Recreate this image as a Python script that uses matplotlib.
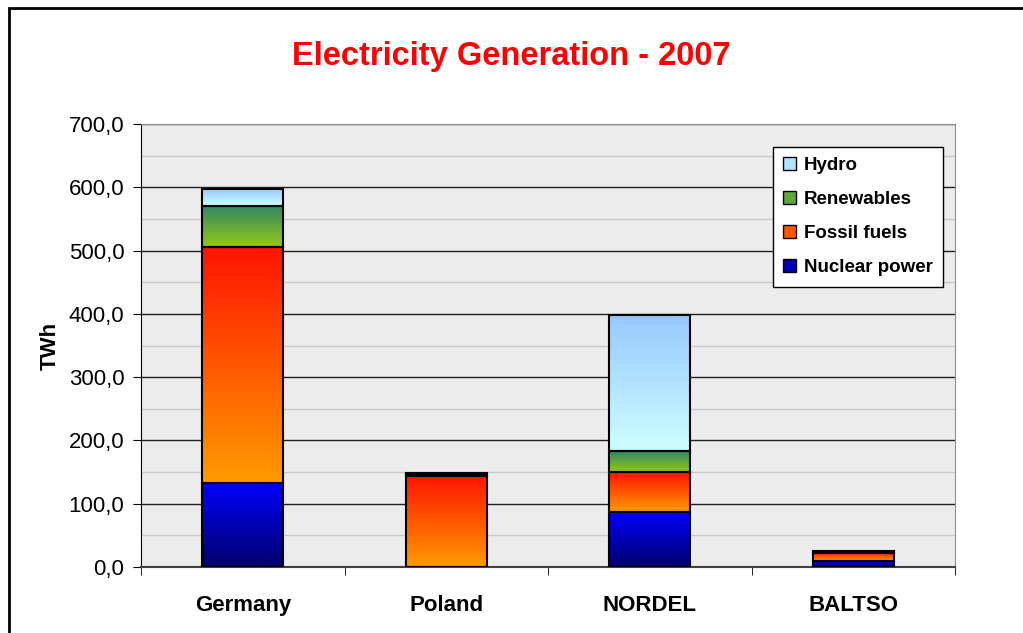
import matplotlib
matplotlib.use("Agg")
import matplotlib.pyplot as plt
import matplotlib.patches as mpatches
from matplotlib.colors import LinearSegmentedColormap
import numpy as np

plt.rcParams['font.family'] = ['Liberation Sans', 'DejaVu Sans']
plt.rcParams['font.size'] = 16

# data (TWh)
regions = ["Germany", "Poland", "NORDEL", "BALTSO"]
nuclear = [133, 0, 87, 9]
fossil = [372, 144, 63, 13]
renewables = [65, 2, 33, 1]
hydro = [27, 2, 215, 3]

series = [
    ("Nuclear power", nuclear, (0/255, 0/255, 255/255), (0/255, 0/255, 105/255)),
    ("Fossil fuels", fossil, (255/255, 20/255, 0/255), (255/255, 155/255, 0/255)),
    ("Renewables", renewables, (45/255, 135/255, 100/255), (150/255, 200/255, 20/255)),
    ("Hydro", hydro, (150/255, 200/255, 255/255), (205/255, 255/255, 255/255)),
]

fig = plt.figure(figsize=(10.23, 6.33), dpi=100)
ax = fig.add_axes([141/1023, 1-567/633, (955-141)/1023, (567-124)/633])
ax.set_facecolor('#ececec')

x = np.arange(len(regions))
bottom = np.zeros(len(regions))
handles = []
for name, vals, top_c, bot_c in series:
    cmap = LinearSegmentedColormap.from_list(name, [bot_c, top_c])
    bars = ax.bar(x, vals, 0.4, bottom=bottom, color='none', edgecolor='black', linewidth=1.5, zorder=3)
    for b in bars:
        if b.get_height() <= 0:
            continue
        grad = np.linspace(0, 1, 256).reshape(-1, 1)
        im = ax.imshow(grad, cmap=cmap, origin='lower', aspect='auto', interpolation='bilinear',
                       extent=[b.get_x(), b.get_x()+b.get_width(), b.get_y(), b.get_y()+b.get_height()], zorder=2)
        im.set_clip_path(b)
    bottom += np.array(vals)
    handles.append(mpatches.Patch(facecolor=cmap(0.5), edgecolor='black', label=name))

ax.set_xlim(-0.5, 3.5)
ax.set_ylim(0, 700)
ax.set_yticks(np.arange(0, 701, 100))
ax.set_yticklabels([f"{v:.1f}".replace('.', ',') for v in np.arange(0, 701, 100)])
ax.set_yticks(np.arange(50, 700, 100), minor=True)
ax.tick_params(axis='y', which='minor', length=0)
ax.grid(axis='y', which='major', color='#202020', linewidth=1, zorder=1)
ax.grid(axis='y', which='minor', color='#c8c8c8', linewidth=1, zorder=1)
ax.set_axisbelow(True)

ax.set_xticks(x)
ax.set_xticklabels(regions, fontweight='bold')
ax.set_xticks(np.arange(-0.5, 4, 1), minor=True)
ax.tick_params(axis='x', which='major', length=0, pad=20)
ax.tick_params(axis='x', which='minor', length=6, color='black')
ax.tick_params(axis='y', which='major', length=6, pad=6)

for s in ['top', 'right']:
    ax.spines[s].set_color('#909090')
ax.spines['left'].set_color('black')
ax.spines['bottom'].set_color('#404040')
ax.spines['bottom'].set_linewidth(1.5)

ax.set_ylabel("TWh", fontweight='bold', fontsize=16, labelpad=6)

leg = ax.legend(handles=handles[::-1], loc='upper right', bbox_to_anchor=(0.9853, 0.948),
                borderaxespad=0, frameon=True, fancybox=False, edgecolor='black', framealpha=1,
                prop={'weight': 'bold', 'size': 13.5}, handlelength=0.7, handleheight=0.7,
                handletextpad=0.4, labelspacing=0.9, borderpad=0.55)
leg.get_frame().set_linewidth(1)

fig.text(0.5, 1-56/633, "Electricity Generation - 2007", color='#ff0000', fontsize=23.5,
         fontweight='bold', ha='center', va='center')

border = mpatches.Rectangle((9/1023, -0.05), 1.1, 1-8/633+0.05, transform=fig.transFigure,
                            fill=False, edgecolor='black', linewidth=2, clip_on=False)
fig.patches.append(border)

fig.savefig("out.png", dpi=100)
